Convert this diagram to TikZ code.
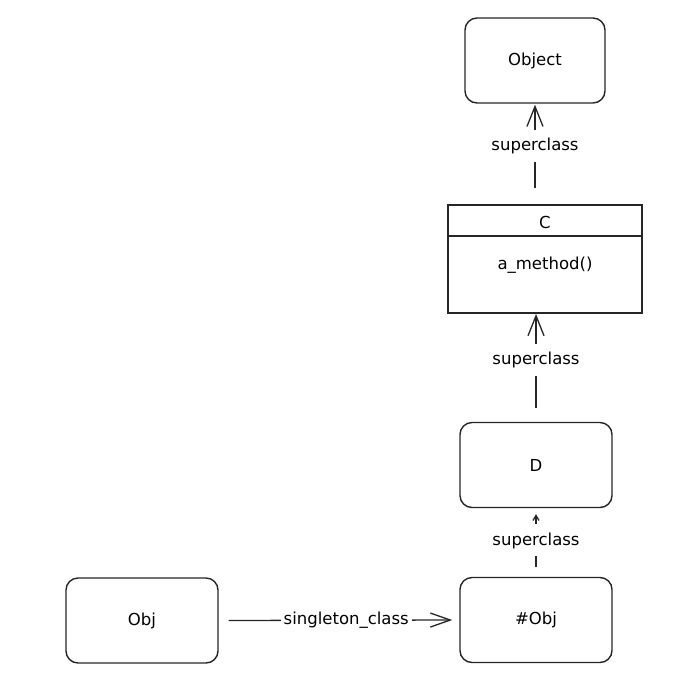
\documentclass[tikz,border=0pt]{standalone}
\usepackage{fontspec}
\setmainfont{DejaVu Sans}
\usetikzlibrary{arrows.meta}
\begin{document}
\begin{tikzpicture}[x=1pt,y=-1pt,
  ink/.style={draw=black!85, line width=1.4pt},
  roundbox/.style={ink, rounded corners=12pt, minimum width=#1, minimum height=85pt, inner sep=0pt},
  roundbox/.default=152pt,
  txt/.style={font=\fontsize{16.5}{19}\selectfont},
  barb/.style={-{Straight Barb[length=20pt,width=16pt,line width=1.3pt]}},
  link/.style={ink, line width=1.3pt, barb},
  tag/.style={txt, fill=white, inner xsep=2pt, inner ysep=8pt}]
\useasboundingbox (0,0) rectangle (694,686);

% class boxes
\node[roundbox=140pt, txt] (object) at (535,60.5) {Object};
\node[roundbox, txt] (d) at (536,465) {D};
\node[roundbox, txt] (sobj) at (536,620) {\#Obj};
\node[roundbox, txt] (obj) at (142,620.5) {Obj};

% class C with a method compartment
\node[ink, minimum width=194pt, minimum height=108pt, inner sep=0pt] (c) at (545,259) {};
\coordinate (cl) at (448,236);
\coordinate (cr) at (642,236);
\draw[ink] (cl) -- (cr);
\node[txt] (cname) at (545,222) {C};
\node[txt] (cmeth) at (545,265) {a\_method()};

% superclass chain
\draw[link, shorten <=16pt, shorten >=1pt] (c.north -| object.south) -- node[tag, pos=0.58] (l1) {superclass} (object.south);
\draw[link, shorten <=14pt, shorten >=1pt] (d.north -| 536,313) -- node[tag, pos=0.57] (l2) {superclass} (536,313);
\draw[link, shorten <=10pt, shorten >=6pt, -{Straight Barb[length=5pt,width=6pt,line width=1.3pt]}] (sobj.north) -- node[tag, pos=0.53] (l3) {superclass} (d.south);

% singleton class link
\draw[link, shorten <=10pt, shorten >=7pt, -{Straight Barb[length=20pt,width=14pt,line width=1.3pt]}] (obj.east) -- node[tag, pos=0.53, inner ysep=2pt, inner xsep=3pt] (l4) {singleton\_class} (sobj.west);
\end{tikzpicture}
\end{document}
